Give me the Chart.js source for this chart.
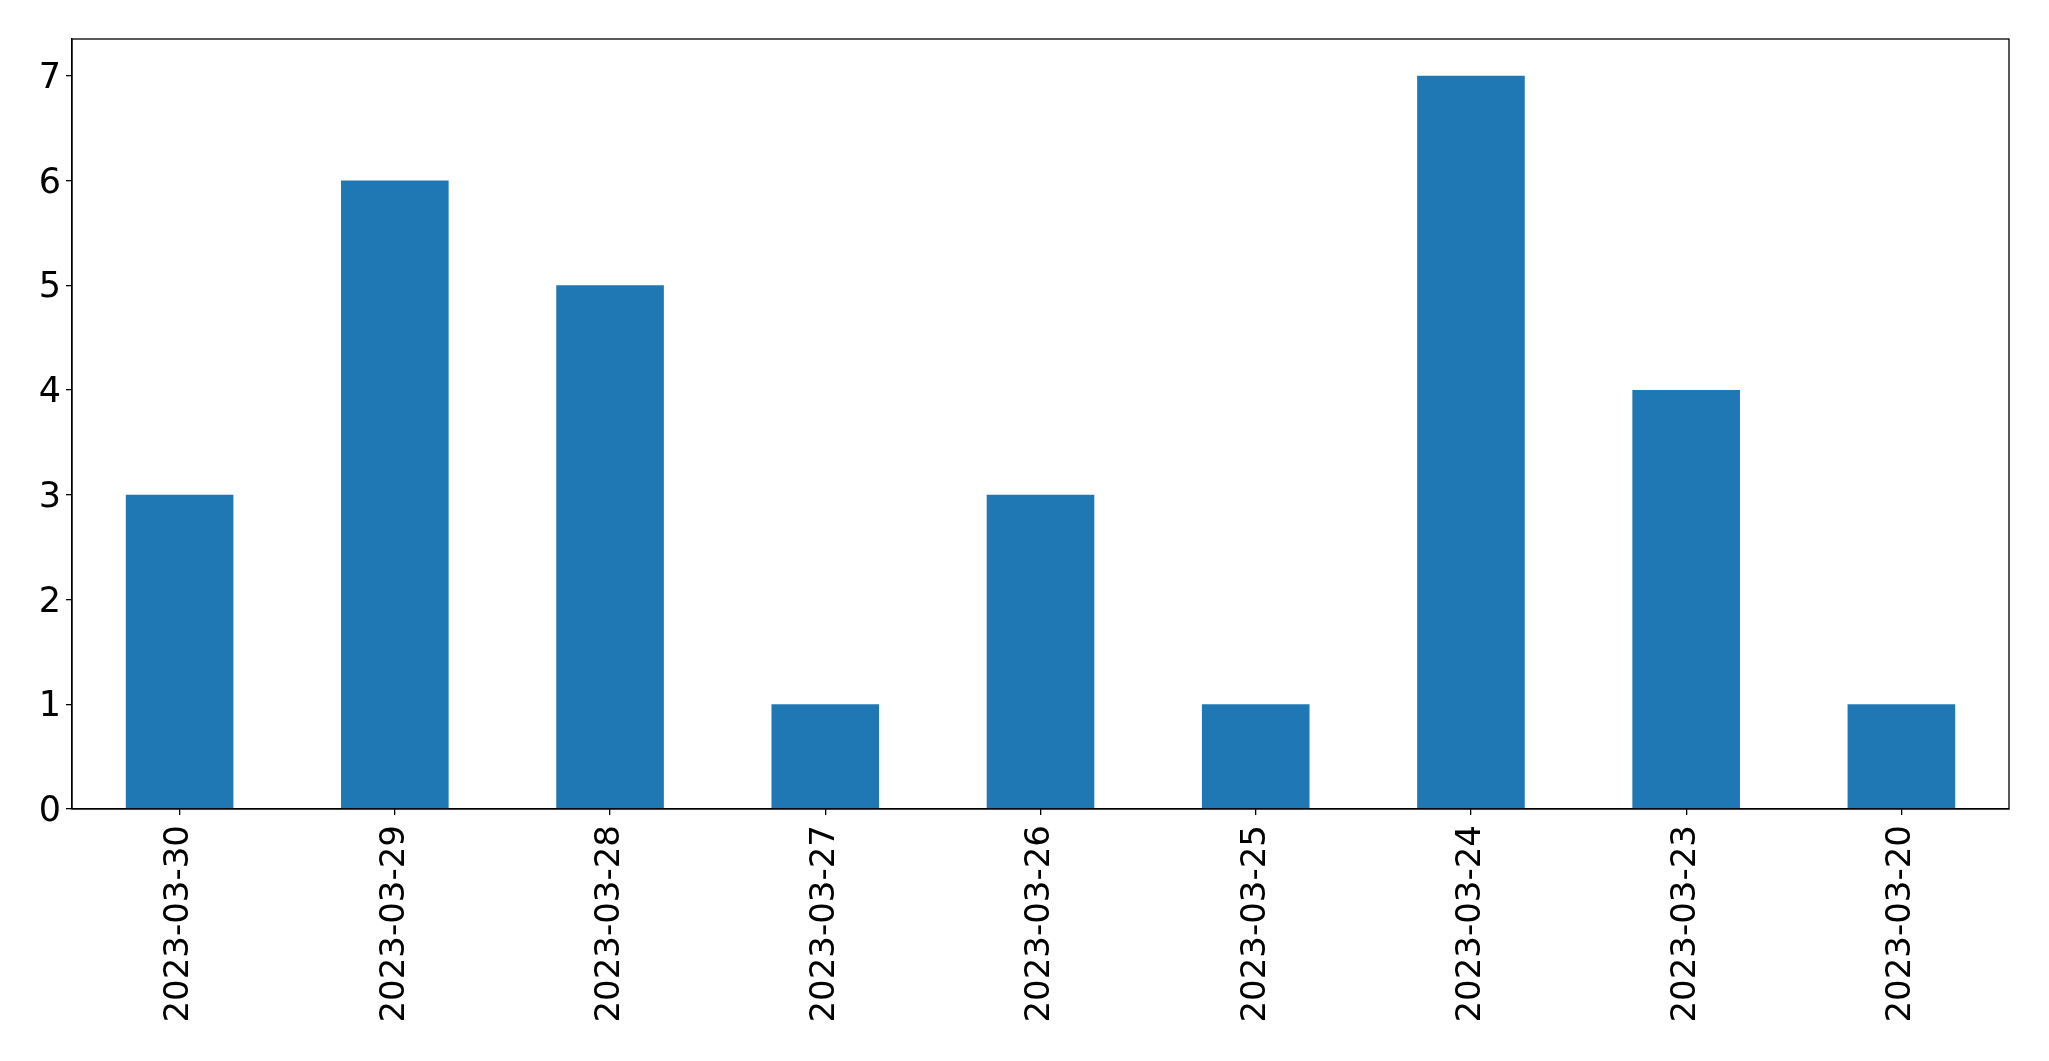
<!DOCTYPE html>
<html>
<head>
<meta charset="utf-8">
<script src="https://cdn.jsdelivr.net/npm/chart.js@4"></script>
<style>
body { margin: 0; background: #fff; }
</style>
</head>
<body>
<canvas id="myChart" width="2049" height="1061"></canvas>
<script>
var dates = ['2023-03-30', '2023-03-29', '2023-03-28', '2023-03-27', '2023-03-26', '2023-03-25', '2023-03-24', '2023-03-23', '2023-03-20'];
var counts = [3, 6, 5, 1, 3, 1, 7, 4, 1];

// draws the box around the plot area, like matplotlib's spines
var frame = {
    id: 'frame',
    afterDraw: function(chart){
        var a = chart.chartArea;
        var ctx = chart.ctx;
        ctx.save();
        ctx.strokeStyle = '#000';
        ctx.lineWidth = 1.3;
        ctx.strokeRect(a.left, a.top, a.right - a.left, a.bottom - a.top);
        ctx.restore();
    }
};

function draw(){
var ctx = document.getElementById('myChart').getContext('2d');
var myChart = new Chart(ctx, {
    type: 'bar',
    data: {
        labels: dates,
        datasets: [{
            data: counts,
            backgroundColor: '#1f77b4',
            borderWidth: 0,
            barPercentage: 0.5,
            categoryPercentage: 1.0
        }]
    },
    options: {
        responsive: false,
        animation: false,
        layout: { padding: { left: 0, top: 39, right: 40, bottom: 0 } },
        plugins: { legend: { display: false }, tooltip: { enabled: false } },
        scales: {
            x: {
                offset: true,
                grid: { display: true, drawOnChartArea: false, drawTicks: true, tickLength: 6, color: '#000', lineWidth: 1.3, offset: false },
                border: { display: true, color: '#000', width: 1.3 },
                ticks: {
                    minRotation: 90, maxRotation: 90, autoSkip: false,
                    color: '#000', padding: 10,
                    font: { family: 'DejaVu Sans', size: 34 }
                },
                afterFit: function(s){ s.height = 252; }
            },
            y: {
                min: 0,
                max: 7.35,
                grid: { display: true, drawOnChartArea: false, drawTicks: true, tickLength: 6, color: '#000', lineWidth: 1.3 },
                border: { display: true, color: '#000', width: 1.3 },
                ticks: {
                    stepSize: 1, includeBounds: false,
                    color: '#000', padding: 5, labelOffset: 3,
                    font: { family: 'DejaVu Sans', size: 35 }
                },
                afterFit: function(s){ s.width = 72; }
            }
        }
    },
    plugins: [frame]
});
};
draw();
</script>
</body>
</html>
